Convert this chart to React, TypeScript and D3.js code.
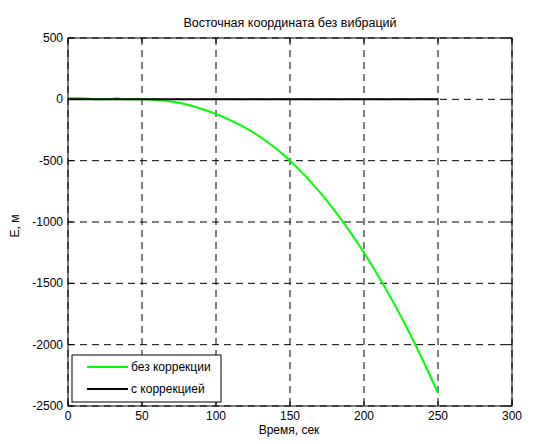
import React from "react";
import * as d3 from "d3";

// время, сек
const times = [0, 5, 10, 13, 16, 20, 30, 33, 36, 40, 50, 60, 70, 80, 90, 100, 110, 120, 130, 140, 150, 160, 170, 180, 190, 200, 210, 220, 230, 240, 250];
// без коррекции, м
const noCorr = [8, 8, 8, 6, 2, 0, 2, 8, 2, 0, 0, -5, -18, -42, -77, -120, -171, -233, -307, -395, -500, -620, -755, -905, -1070, -1250, -1446, -1658, -1887, -2133, -2395];
// с коррекцией, м
const withCorr = [0, 0, 0, 0, 0, 0, 0, 0, 0, 0, 0, 0, 0, 0, 0, 0, 0, 0, 0, 0, 0, 0, 0, 0, 0, 0, 0, 0, 0, 0, 0];

const xTicks = [0, 50, 100, 150, 200, 250, 300];
const yTicks = [500, 0, -500, -1000, -1500, -2000, -2500];
const legendLabels = ["без коррекции", "с коррекцией"];
const colors = ["#00ff00", "#000000"];

const W = 551;
const H = 444;
const m = { left: 68, right: 39, top: 38, bottom: 38 };
const font = "Liberation Sans, Arial, sans-serif";
const fs = 12;

const App = () => {
  const x = d3.scaleLinear().domain([0, 300]).range([m.left, W - m.right]);
  const y = d3.scaleLinear().domain([-2500, 500]).range([H - m.bottom, m.top]);

  const line = d3
    .line<number>()
    .x((_, i) => x(times[i]))
    .y((d) => y(d))
    .curve(d3.curveMonotoneX);

  const x0 = x(0), x1 = x(300), y0 = y(-2500), y1 = y(500);
  const tl = 5;

  return (
    <svg width={W} height={H} style={{ position: "absolute", left: 0, top: 0, background: "#fff" }} fontFamily={font}>
      <rect x={0} y={0} width={W} height={H} fill="#fff" />
      {/* grid */}
      {xTicks.map((t) => (
        <line key={"gx" + t} x1={x(t)} x2={x(t)} y1={y1} y2={y0} stroke="#000" strokeWidth={1} strokeDasharray="7,5" />
      ))}
      {yTicks.map((t) => (
        <line key={"gy" + t} x1={x0} x2={x1} y1={y(t)} y2={y(t)} stroke="#000" strokeWidth={1} strokeDasharray="7,5" />
      ))}
      {/* data */}
      <path d={line(noCorr) || ""} fill="none" stroke={colors[0]} strokeWidth={2} />
      <path d={line(withCorr) || ""} fill="none" stroke={colors[1]} strokeWidth={2} />
      {/* box */}
      <rect x={x0} y={y1} width={x1 - x0} height={y0 - y1} fill="none" stroke="#000" strokeWidth={1} />
      {/* ticks */}
      {xTicks.map((t) => (
        <g key={"tx" + t}>
          <line x1={x(t)} x2={x(t)} y1={y0} y2={y0 - tl} stroke="#000" />
          <line x1={x(t)} x2={x(t)} y1={y1} y2={y1 + tl} stroke="#000" />
          <text x={x(t)} y={y0 + 14} fontSize={fs} textAnchor="middle">{t}</text>
        </g>
      ))}
      {yTicks.map((t) => (
        <g key={"ty" + t}>
          <line x1={x0} x2={x0 + tl} y1={y(t)} y2={y(t)} stroke="#000" />
          <line x1={x1} x2={x1 - tl} y1={y(t)} y2={y(t)} stroke="#000" />
          <text x={x0 - 5} y={y(t) + 4} fontSize={fs} textAnchor="end">{t}</text>
        </g>
      ))}
      {/* labels */}
      <text x={290} y={27} fontSize={12.5} textAnchor="middle">Восточная координата без вибраций</text>
      <text x={289} y={434} fontSize={fs} textAnchor="middle">Время, сек</text>
      <text transform={`translate(19,226) rotate(-90)`} fontSize={fs} textAnchor="middle">E, м</text>
      {/* legend */}
      <rect x={72} y={355} width={149} height={47} fill="#fff" stroke="#000" strokeWidth={1} />
      {legendLabels.map((l, i) => (
        <g key={l}>
          <line x1={87} x2={128} y1={367 + i * 22} y2={367 + i * 22} stroke={colors[i]} strokeWidth={2} />
          <text x={131} y={371 + i * 22} fontSize={fs}>{l}</text>
        </g>
      ))}
    </svg>
  );
};

export default App;
